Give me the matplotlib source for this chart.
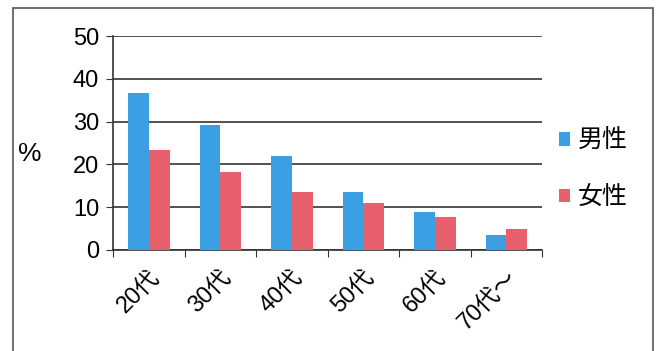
import numpy as np
import matplotlib.pyplot as plt
from matplotlib.patches import Rectangle

plt.rcParams['font.family'] = ['Liberation Sans', 'Noto Sans CJK JP', 'DejaVu Sans']

# Data (%)
ages = ['20代', '30代', '40代', '50代', '60代', '70代〜']
male = [36.7, 29.2, 22.0, 13.6, 8.9, 3.6]
female = [23.4, 18.2, 13.6, 11.0, 7.7, 4.9]

blue = '#3b9fe3'
red = '#e85f6d'

fig = plt.figure(figsize=(6.61, 3.51), dpi=100)
ax = fig.add_axes([0.171, 0.288, 0.649, 0.609])

x = np.arange(len(ages))
w = 0.29
ax.bar(x - w / 2, male, w, color=blue, label='男性', zorder=3)
ax.bar(x + w / 2, female, w, color=red, label='女性', zorder=3)

ax.set_xlim(-0.5, len(ages) - 0.5)
ax.set_ylim(0, 50)
ax.set_yticks([0, 10, 20, 30, 40, 50])
ax.yaxis.grid(True, color='#333333', linewidth=1.2, zorder=0)
ax.tick_params(axis='y', labelsize=17, length=5, color='#333333', pad=5)

# tick marks at category boundaries, labels at centres
ax.set_xticks(np.arange(len(ages) + 1) - 0.5)
ax.set_xticklabels([])
ax.set_xticks(x, minor=True)
ax.set_xticklabels(ages, minor=True, rotation=45, ha='right',
                   rotation_mode='anchor', fontsize=17)
ax.tick_params(axis='x', which='minor', length=0, pad=12)
ax.tick_params(axis='x', which='major', length=5, color='#333333')

for s in ['top', 'right']:
    ax.spines[s].set_visible(False)
ax.spines['left'].set_color('#333333')
ax.spines['bottom'].set_color('#333333')
ax.spines['left'].set_linewidth(1.2)
ax.spines['bottom'].set_linewidth(1.2)

ax.set_ylabel('%', rotation=0, fontsize=19, labelpad=20, va='center')
ax.yaxis.set_label_coords(-0.195, 0.45)

ax.legend(loc='center left', bbox_to_anchor=(1.04, 0.378), frameon=False,
          fontsize=18, handlelength=0.45, handleheight=0.45, handletextpad=0.3,
          labelspacing=1.3, borderaxespad=0, borderpad=0)

# outer frame
fig.patches.append(Rectangle((0.02, -0.05), 0.968, 1.027, transform=fig.transFigure,
                             fill=False, edgecolor='#555555', linewidth=1.2))

fig.savefig('out.png', dpi=100)
